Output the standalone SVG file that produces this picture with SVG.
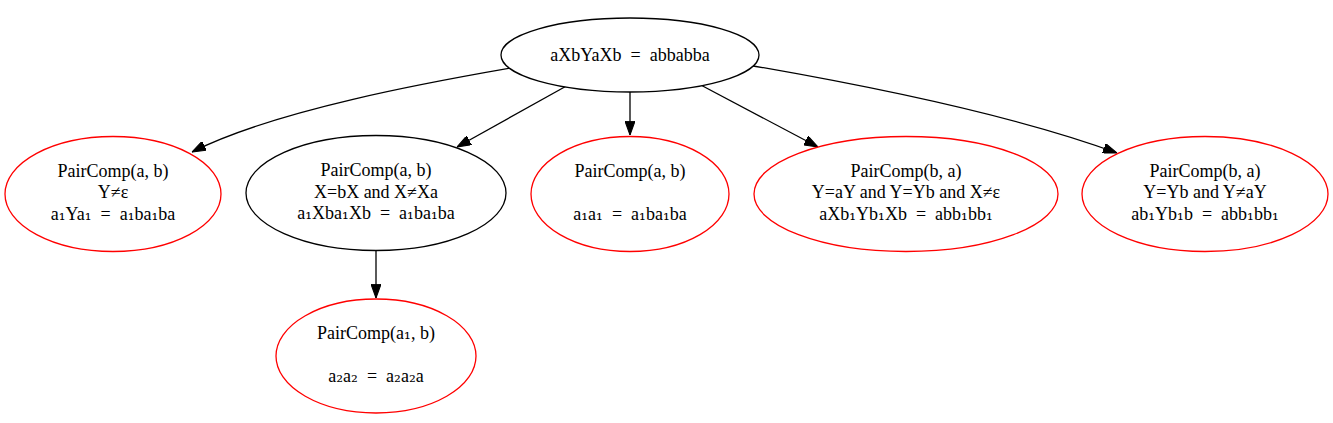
<svg xmlns="http://www.w3.org/2000/svg" width="1333" height="423" viewBox="0 0 1333 423">
<style>
.n{fill:#fff;stroke:#000;stroke-width:1.3}
.r{fill:#fff;stroke:#ff0000;stroke-width:1.3}
text{font-family:"Liberation Serif","Times New Roman",serif;font-size:18px;fill:#000;text-anchor:middle;white-space:pre}
.s{font-family:"DejaVu Serif",serif;font-size:17px}
.e{fill:none;stroke:#000;stroke-width:1.3;marker-end:url(#ah)}
</style>
<defs>
<marker id="ah" markerUnits="userSpaceOnUse" markerWidth="14" markerHeight="10" viewBox="0 0 13 9.4" refX="13" refY="4.7" orient="auto">
<path d="M0,0 L13,4.7 L0,9.4 z" fill="#000" stroke="#000" stroke-width="1"/>
</marker>
</defs>
<rect width="1333" height="423" fill="#fff"/>
<g id="edges">
<path class="e" d="M517,67 C430,82 275,110 192,152"/>
<path class="e" d="M570,84 L457,147"/>
<path class="e" d="M630,92 L630,135"/>
<path class="e" d="M697,83 L818,147"/>
<path class="e" d="M748,65 C835,80 1000,110 1117,153"/>
<path class="e" d="M376,251 L376,298"/>
</g>
<g id="root">
<ellipse class="n" cx="630" cy="55" rx="129" ry="37"/>
<text x="630" y="61" xml:space="preserve">aXbYaXb  =  abbabba</text>
</g>
<g id="n1">
<ellipse class="r" cx="113" cy="194" rx="108" ry="57.5"/>
<text x="113" y="176.5">PairComp(a, b)</text>
<text x="113" y="198">Y≠ε</text>
<text x="113" y="219.5" xml:space="preserve">a<tspan class="s">₁</tspan>Ya<tspan class="s">₁</tspan>  =  a<tspan class="s">₁</tspan>ba<tspan class="s">₁</tspan>ba</text>
</g>
<g id="n2">
<ellipse class="n" cx="376" cy="193" rx="130" ry="57.5"/>
<text x="376" y="176">PairComp(a, b)</text>
<text x="376" y="197.5">X=bX and X≠Xa</text>
<text x="376" y="219" xml:space="preserve">a<tspan class="s">₁</tspan>Xba<tspan class="s">₁</tspan>Xb  =  a<tspan class="s">₁</tspan>ba<tspan class="s">₁</tspan>ba</text>
</g>
<g id="n3">
<ellipse class="r" cx="630" cy="194" rx="99" ry="57.5"/>
<text x="630" y="176.5">PairComp(a, b)</text>
<text x="630" y="219.5" xml:space="preserve">a<tspan class="s">₁</tspan>a<tspan class="s">₁</tspan>  =  a<tspan class="s">₁</tspan>ba<tspan class="s">₁</tspan>ba</text>
</g>
<g id="n4">
<ellipse class="r" cx="906" cy="194" rx="152" ry="57.5"/>
<text x="906" y="176.5">PairComp(b, a)</text>
<text x="906" y="198">Y=aY and Y=Yb and X≠ε</text>
<text x="906" y="219.5" xml:space="preserve">aXb<tspan class="s">₁</tspan>Yb<tspan class="s">₁</tspan>Xb  =  abb<tspan class="s">₁</tspan>bb<tspan class="s">₁</tspan></text>
</g>
<g id="n5">
<ellipse class="r" cx="1205" cy="194" rx="123" ry="57.5"/>
<text x="1205" y="176.5">PairComp(b, a)</text>
<text x="1205" y="198">Y=Yb and Y≠aY</text>
<text x="1205" y="219.5" xml:space="preserve">ab<tspan class="s">₁</tspan>Yb<tspan class="s">₁</tspan>b  =  abb<tspan class="s">₁</tspan>bb<tspan class="s">₁</tspan></text>
</g>
<g id="n6">
<ellipse class="r" cx="376" cy="356" rx="100" ry="57"/>
<text x="376" y="339">PairComp(a<tspan class="s">₁</tspan>, b)</text>
<text x="376" y="382" xml:space="preserve">a<tspan class="s">₂</tspan>a<tspan class="s">₂</tspan>  =  a<tspan class="s">₂</tspan>a<tspan class="s">₂</tspan>a</text>
</g>
</svg>
